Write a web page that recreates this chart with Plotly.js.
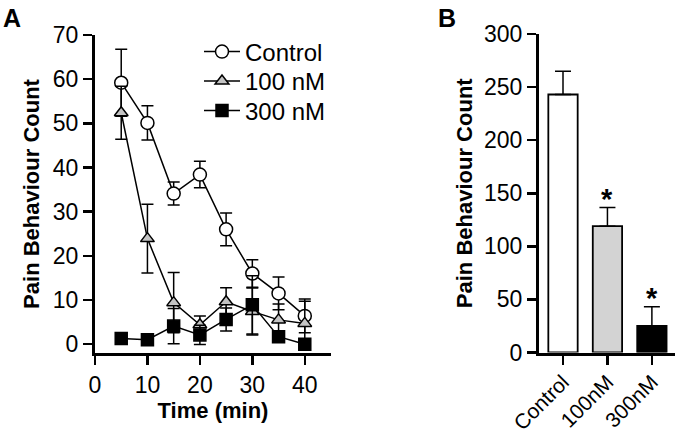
<!DOCTYPE html>
<html>
<head>
<meta charset="utf-8">
<script src="https://cdn.plot.ly/plotly-3.0.1.min.js"></script>
<style>html,body{margin:0;padding:0;background:#fff;}#chart{width:676px;height:439px;}</style>
</head>
<body>
<div id="chart"></div>
<script>
// Panel A: time course
const time = [5, 10, 15, 20, 25, 30, 35, 40];
const ctrl = [59.2, 50.1, 34.1, 38.4, 26.0, 16.0, 11.5, 6.4];
const ctrlErr = [7.6, 3.9, 2.6, 3.0, 3.7, 3.1, 3.7, 3.8];
const nm100 = [52.4, 23.9, 9.4, 4.4, 9.6, 7.4, 5.5, 4.7];
const nm100Err = [6.0, 7.8, 6.8, 2.0, 3.2, 5.3, 3.6, 5.0];
const nm300 = [1.3, 1.0, 4.1, 2.1, 5.6, 8.9, 1.7, 0.0];
const nm300Err = [0, 0, 4.0, 2.2, 2.6, 6.6, 0, 0];
const seriesNames = ['Control', '100 nM', '300 nM'];

// Panel B: totals
const groups = ['Control', '100nM', '300nM'];
const totals = [243, 119, 25];
const totalsErr = [22, 17.5, 18];
const signif = ['', '*', '*'];

const FONT = 'Liberation Sans, Arial, Helvetica, sans-serif';
const W = 676, H = 439;
const TICK = 23, TITLE = 22, LEG = 24;

function errA(arr) {
  return {type: 'data', array: arr, visible: true, color: '#000', thickness: 1.5, width: 6};
}

const traces = [
  {x: time, y: ctrl, name: seriesNames[0], type: 'scatter', mode: 'lines+markers', legend: 'legend',
   line: {color: '#000', width: 1.5},
   marker: {symbol: 'circle', size: 13, color: '#fff', line: {color: '#000', width: 1.5}},
   error_y: errA(ctrlErr), xaxis: 'x', yaxis: 'y'},
  {x: time, y: nm100, name: seriesNames[1], type: 'scatter', mode: 'lines+markers', legend: 'legend2',
   line: {color: '#000', width: 1.5},
   marker: {symbol: 'triangle-up', size: 12, color: '#c4c4c4', line: {color: '#000', width: 1.5}},
   error_y: errA(nm100Err), xaxis: 'x', yaxis: 'y'},
  {x: time, y: nm300, name: seriesNames[2], type: 'scatter', mode: 'lines+markers', legend: 'legend3',
   line: {color: '#000', width: 1.5},
   marker: {symbol: 'square', size: 12, color: '#000', line: {color: '#000', width: 1.5}},
   error_y: errA(nm300Err), xaxis: 'x', yaxis: 'y'},
  {x: groups, y: totals, type: 'bar', showlegend: false, width: 0.66,
   marker: {color: ['#ffffff', '#d3d3d3', '#000000'], line: {color: '#000', width: 1.8}},
   error_y: {type: 'data', symmetric: false, array: totalsErr, arrayminus: totals.map(() => 0),
             color: '#000', thickness: 1.5, width: 8},
   xaxis: 'x2', yaxis: 'y2'}
];

const axisCommon = {
  showline: true, linecolor: '#000', linewidth: 3, mirror: false,
  ticks: 'outside', ticklen: 9, tickwidth: 2.5, tickcolor: '#000',
  showgrid: false, zeroline: false, fixedrange: true,
  tickfont: {family: FONT, size: TICK, color: '#000'}
};

const annotations = [
  {text: '<b>A</b>', xref: 'paper', yref: 'paper', x: 1 / W, y: 1 - 2 / H, xanchor: 'left', yanchor: 'top',
   showarrow: false, font: {family: FONT, size: 25, color: '#000'}},
  {text: '<b>B</b>', xref: 'paper', yref: 'paper', x: 436 / W, y: 1 - 2 / H, xanchor: 'left', yanchor: 'top',
   showarrow: false, font: {family: FONT, size: 25, color: '#000'}}
];
groups.forEach((g, i) => {
  if (signif[i]) {
    annotations.push({text: '<b>' + signif[i] + '</b>', x: g, y: totals[i] + totalsErr[i], xref: 'x2', yref: 'y2',
      yanchor: 'middle', yshift: 9, showarrow: false, font: {family: FONT, size: 29, color: '#000'}});
  }
});

function leg(yPix) {
  return {x: 199 / W, y: 1 - yPix / H, xanchor: 'left', yanchor: 'middle', bgcolor: 'rgba(0,0,0,0)',
          borderwidth: 0, font: {family: FONT, size: LEG, color: '#000'}, itemwidth: 36, valign: 'middle'};
}

const layout = {
  width: W, height: H, autosize: false,
  margin: {l: 0, r: 0, t: 0, b: 0},
  paper_bgcolor: '#fff', plot_bgcolor: '#fff',
  font: {family: FONT, color: '#000'},
  showlegend: true,
  legend: leg(52),
  legend2: leg(81.5),
  legend3: leg(111),
  xaxis: Object.assign({}, axisCommon, {
    domain: [95 / W, 331 / W], range: [0, 45], tickvals: [0, 10, 20, 30, 40], anchor: 'y',
    title: {text: '<b>Time (min)</b>', font: {family: FONT, size: TITLE, color: '#000'}, standoff: 6}
  }),
  yaxis: Object.assign({}, axisCommon, {
    domain: [1 - 353 / H, 1 - 35 / H], range: [-2, 70], tickvals: [0, 10, 20, 30, 40, 50, 60, 70], anchor: 'x',
    title: {text: '<b>Pain Behaviour Count</b>', font: {family: FONT, size: TITLE, color: '#000'}, standoff: 8}
  }),
  xaxis2: Object.assign({}, axisCommon, {
    domain: [539 / W, 675 / W], range: [-0.54, 2.52], anchor: 'y2', tickangle: -45, type: 'category',
    tickfont: {family: FONT, size: 21, color: '#000'}, ticklabelstandoff: -3
  }),
  yaxis2: Object.assign({}, axisCommon, {
    domain: [1 - 352.5 / H, 1 - 34 / H], range: [0, 300], tickvals: [0, 50, 100, 150, 200, 250, 300], anchor: 'x2',
    title: {text: '<b>Pain Behaviour Count</b>', font: {family: FONT, size: TITLE, color: '#000'}, standoff: 6}
  }),
  annotations: annotations
};

Plotly.newPlot('chart', traces, layout, {displayModeBar: false, staticPlot: true});
</script>
</body>
</html>
